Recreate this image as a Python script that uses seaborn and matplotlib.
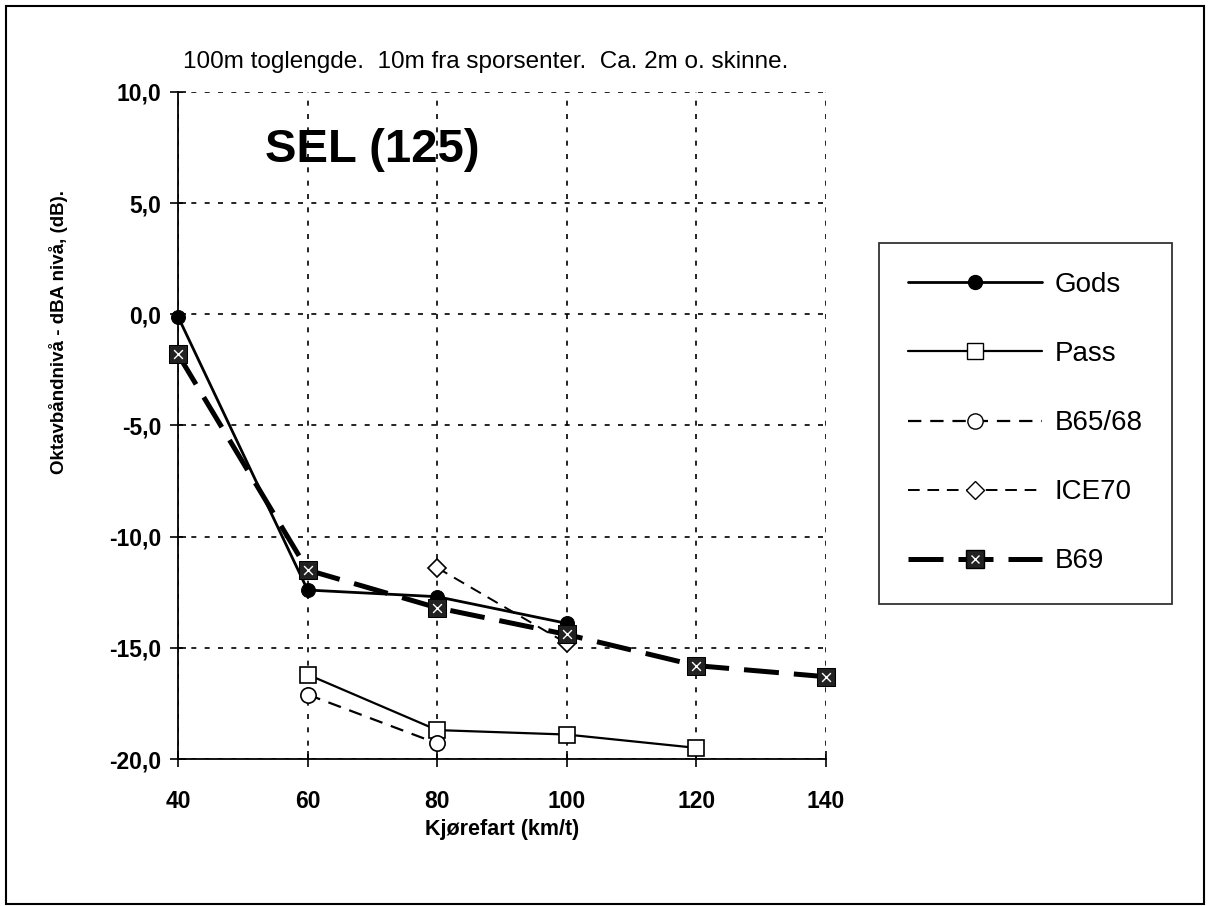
import matplotlib
matplotlib.use("Agg")
import matplotlib.pyplot as plt
import seaborn as sns
import pandas as pd
from matplotlib.lines import Line2D
from matplotlib.patches import Rectangle
from matplotlib.ticker import FuncFormatter

# ---- data ----
gods_x = [40, 60, 80, 100]
gods_y = [-0.1, -12.4, -12.7, -13.9]
pass_x = [60, 80, 100, 120]
pass_y = [-16.2, -18.7, -18.9, -19.5]
b6568_x = [60, 80]
b6568_y = [-17.1, -19.3]
ice70_x = [80, 100]
ice70_y = [-11.4, -14.8]
b69_x = [40, 60, 80, 100, 120, 140]
b69_y = [-1.8, -11.5, -13.2, -14.4, -15.8, -16.3]

x_ticks = [40, 60, 80, 100, 120, 140]
y_ticks = [-20, -15, -10, -5, 0, 5, 10]

sns.set_theme(style="white")
plt.rcParams['font.family'] = ['Liberation Sans', 'DejaVu Sans']
for k in ["text.color", "axes.labelcolor", "xtick.color", "ytick.color"]:
    plt.rcParams[k] = "black"

fig = plt.figure(figsize=(12.1, 9.06), dpi=100)
ax = fig.add_axes([178/1210, 1-759/906, (826-178)/1210, (759-92)/906])

def draw(x, y, **kw):
    df = pd.DataFrame({"x": x, "y": y})
    sns.lineplot(data=df, x="x", y="y", ax=ax, legend=False, clip_on=False, **kw)

B69_DASH = (7, 3)

draw(gods_x, gods_y, color="black", linewidth=2.0, marker="o", markersize=10,
     markerfacecolor="black", markeredgecolor="black", zorder=5)
draw(pass_x, pass_y, color="black", linewidth=1.6, marker="s", markersize=11,
     markerfacecolor="white", markeredgecolor="black", markeredgewidth=1.2, zorder=5)
draw(b6568_x, b6568_y, color="black", linewidth=1.6, dashes=(6, 4), marker="o", markersize=11,
     markerfacecolor="white", markeredgecolor="black", markeredgewidth=1.2, zorder=5)
draw(ice70_x, ice70_y, color="black", linewidth=1.4, dashes=(6, 4), marker="D", markersize=9,
     markerfacecolor="white", markeredgecolor="black", markeredgewidth=1.2, zorder=5)
draw(b69_x, b69_y, color="black", linewidth=3.6, dashes=B69_DASH, marker="s", markersize=13,
     markerfacecolor="#222222", markeredgecolor="black", zorder=6)
ax.scatter(b69_x, b69_y, marker="x", s=40, color="white", linewidths=1.0, zorder=7,
           clip_on=False)

ax.set_xlim(40, 140)
ax.set_ylim(-20, 10)
ax.set_xticks(x_ticks)
ax.set_yticks(y_ticks)
ax.yaxis.set_major_formatter(FuncFormatter(lambda v, p: f"{v:.1f}".replace(".", ",")))
for lab in ax.get_xticklabels() + ax.get_yticklabels():
    lab.set_fontweight("bold")
ax.tick_params(axis="both", which="major", labelsize=16.5, direction="inout",
               length=12, width=1.2, color="black", left=True, bottom=True)
ax.tick_params(axis="x", pad=16)
ax.tick_params(axis="y", pad=6)

ax.grid(True, color="black", linestyle=(0, (3, 5)), linewidth=1.2)
for s in ["top", "right"]:
    ax.spines[s].set_visible(False)
for s in ["left", "bottom"]:
    ax.spines[s].set_color("black")
    ax.spines[s].set_linewidth(1.3)

ax.set_xlabel("Kjørefart (km/t)", fontsize=15.5, fontweight="bold")
ax.xaxis.set_label_coords(0.5, (759-819)/667)
ax.set_ylabel("Oktavbåndnivå - dBA nivå, (dB).", fontsize=13.5, fontweight="bold")
ax.yaxis.set_label_coords((68-178)/648, 0.64)

fig.text(183/1210, 1-62/906, "100m toglengde.  10m fra sporsenter.  Ca. 2m o. skinne.",
         fontsize=17.5, va="center", ha="left")
ax.text((265-178)/648, (759-150)/667, "SEL (125)", transform=ax.transAxes, fontsize=34,
        fontweight="bold", va="center", ha="left")

# legend
h_gods = Line2D([], [], color="black", linewidth=2.0, marker="o", markersize=10,
                markerfacecolor="black")
h_pass = Line2D([], [], color="black", linewidth=1.6, marker="s", markersize=11,
                markerfacecolor="white")
h_b65 = Line2D([], [], color="black", linewidth=1.6, dashes=(6, 4), marker="o", markersize=11,
               markerfacecolor="white")
h_ice = Line2D([], [], color="black", linewidth=1.4, dashes=(6, 4), marker="D", markersize=9,
               markerfacecolor="white")
h_b69a = Line2D([], [], color="black", linewidth=3.6, dashes=B69_DASH, marker="s", markersize=13,
                markerfacecolor="#222222")
h_b69b = Line2D([], [], linestyle="none", marker="x", markersize=6, color="white",
                markeredgewidth=1.0)
leg = fig.legend([h_gods, h_pass, h_b65, h_ice, (h_b69a, h_b69b)],
                 ["Gods", "Pass", "B65/68", "ICE70", "B69"],
                 loc="upper left", bbox_to_anchor=(879/1210, 1-243/906),
                 fontsize=20, frameon=True, fancybox=False, handlelength=4.8,
                 labelspacing=1.55, borderpad=1.05, handletextpad=0.47,
                 borderaxespad=0)
leg.get_frame().set_edgecolor("black")
leg.get_frame().set_linewidth(1.3)

# outer frame
fig.patches.append(Rectangle((6/1210, 2/906), 1198/1210, 898/906, transform=fig.transFigure,
                             fill=False, edgecolor="black", linewidth=1.5))

fig.savefig("out.png", dpi=100)
